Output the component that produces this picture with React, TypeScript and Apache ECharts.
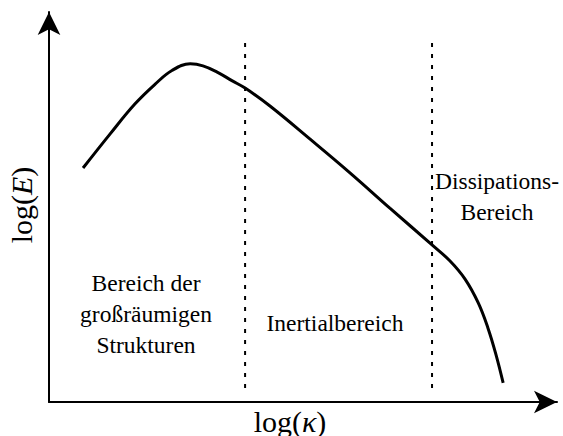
import React, { useEffect, useRef } from "react";
import * as echarts from "echarts";

// Energy spectrum E(κ), schematic: log(κ) vs log(E) in arbitrary units
const logK: number[] = [0.67, 1.2, 1.69, 2.09, 2.42, 2.78, 3.03, 3.31, 3.6, 3.86, 4.35, 5.14, 5.93, 6.71, 7.54, 7.89, 8.19, 8.45, 8.64, 8.8, 8.94];
const logE: number[] = [6.0, 6.87, 7.64, 8.15, 8.5, 8.67, 8.62, 8.46, 8.24, 8.05, 7.59, 6.74, 5.87, 4.97, 4.03, 3.62, 3.15, 2.54, 1.9, 1.21, 0.49];

// Region boundaries (dotted lines) on the log(κ) axis and their vertical extent
const boundaries: number[] = [3.86, 7.54];
const boundaryExtent: number[] = [0.36, 9.33];

const AXIS_MAX = 10;

const regionLabels = {
  large: ["Bereich der", "großräumigen", "Strukturen"],
  inertial: ["Inertialbereich"],
  dissipation: ["Dissipations-", "Bereich"],
};

const SERIF = "Liberation Serif, Times New Roman, serif";

export default function App() {
  const ref = useRef<HTMLDivElement>(null);

  useEffect(() => {
    if (!ref.current) return;
    const chart = echarts.init(ref.current, undefined, { renderer: "svg" });

    const curve = logK.map((k, i) => [k, logE[i]]);
    const boundarySeries = boundaries.map((b) => ({
      type: "line" as const,
      data: boundaryExtent.map((e) => [b, e]),
      symbol: "none",
      silent: true,
      lineStyle: { color: "#000", width: 2, type: [4, 7] as any },
      z: 1,
    }));

    const textStyle = (lines: string[]) => ({
      text: lines.map((l) => `{r|${l}}`).join("\n"),
      fontSize: 23.5,
      fontFamily: SERIF,
      fill: "#000",
      align: "center" as const,
      verticalAlign: "middle" as const,
      rich: {
        r: { fontSize: 23.5, fontFamily: SERIF, lineHeight: 31, fill: "#000", align: "center" },
      },
    });

    const axisTitle = (prefix: string, sym: string) => ({
      text: `${prefix}({i|${sym}})`,
      fontSize: 30,
      fontFamily: SERIF,
      fill: "#000",
      align: "center",
      verticalAlign: "middle",
      rich: { i: { fontStyle: "italic", fontSize: 30, fontFamily: SERIF } },
    });

    const axisCommon = {
      type: "value" as const,
      min: 0,
      max: AXIS_MAX,
      axisLine: {
        show: true,
        onZero: false,
        symbol: ["none", "arrow"],
        symbolSize: [17, 23],
        lineStyle: { color: "#000", width: 2 },
      },
      axisTick: { show: false },
      axisLabel: { show: false },
      splitLine: { show: false },
    };

    chart.setOption({
      animation: false,
      backgroundColor: "#fff",
      grid: { left: 49, right: 6, top: 12, bottom: 34, containLabel: false },
      xAxis: axisCommon,
      yAxis: axisCommon,
      series: [
        {
          type: "line",
          data: curve,
          smooth: 0.4,
          symbol: "none",
          lineStyle: { color: "#000", width: 3 },
          z: 3,
        },
        ...boundarySeries,
      ],
      graphic: [
        { type: "text", x: 146, y: 314, style: textStyle(regionLabels.large) },
        { type: "text", x: 335, y: 323, style: textStyle(regionLabels.inertial) },
        { type: "text", x: 497, y: 196, style: textStyle(regionLabels.dissipation) },
        { type: "text", x: 290, y: 421, style: axisTitle("log", "κ") },
        { type: "text", x: 21, y: 205, rotation: Math.PI / 2, style: axisTitle("log", "E") },
      ],
    });

    return () => chart.dispose();
  }, []);

  return <div ref={ref} style={{ width: 563, height: 436, position: "absolute", left: 0, top: 0 }} />;
}
